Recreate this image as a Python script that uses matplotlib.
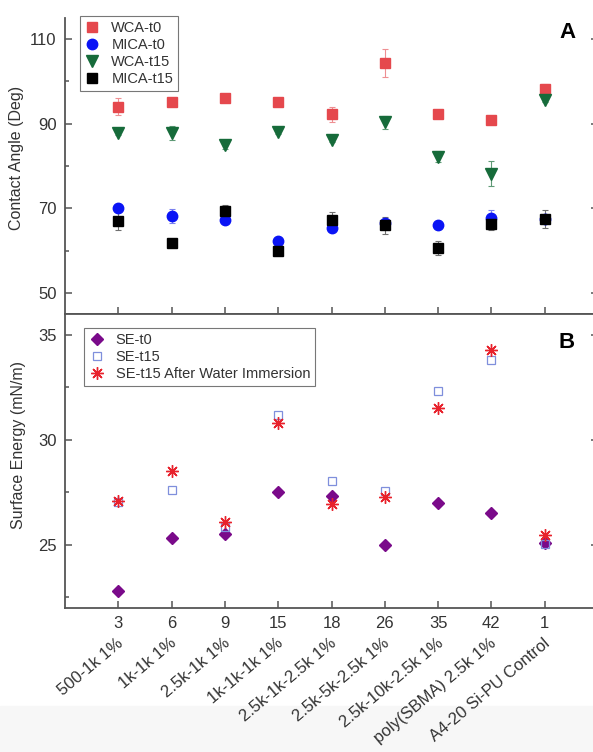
import numpy as np
import matplotlib
matplotlib.use("Agg")
import matplotlib.pyplot as plt
from matplotlib.patches import Rectangle

plt.rcParams['font.family'] = ['Liberation Sans', 'DejaVu Sans']

# sample ids and names
sample_ids = ['3', '6', '9', '15', '18', '26', '35', '42', '1']
sample_names = ['500-1k 1%', '1k-1k 1%', '2.5k-1k 1%', '1k-1k-1k 1%',
                '2.5k-1k-2.5k 1%', '2.5k-5k-2.5k 1%', '2.5k-10k-2.5k 1%',
                'poly(SBMA) 2.5k 1%', 'A4-20 Si-PU Control']

# contact angles (deg) and std devs
wca_t0 = [94.0, 95.2, 96.1, 95.2, 92.2, 104.3, 92.2, 90.9, 98.3]
wca_t0_err = [2.0, 0.6, 0.5, 0.5, 1.7, 3.3, 0.5, 1.0, 1.0]
mica_t0 = [70.1, 68.2, 67.2, 62.2, 65.3, 66.5, 66.0, 67.8, 67.5]
mica_t0_err = [0.6, 1.6, 0.5, 0.6, 0.6, 1.0, 1.0, 1.7, 1.0]
wca_t15 = [87.8, 87.8, 85.0, 88.0, 86.2, 90.3, 82.2, 78.2, 95.7]
wca_t15_err = [0.5, 1.7, 1.0, 0.5, 0.5, 1.5, 1.3, 3.0, 0.5]
mica_t15 = [67.1, 61.7, 69.3, 59.8, 67.2, 66.0, 60.6, 66.2, 67.5]
mica_t15_err = [2.2, 0.5, 1.4, 0.5, 2.0, 2.0, 1.7, 1.4, 2.2]

# surface energy (mN/m)
se_t0 = [22.8, 25.3, 25.5, 27.5, 27.3, 25.0, 27.0, 26.5, 25.1]
se_t15 = [27.05, 27.6, 25.85, 31.2, 28.05, 27.55, 32.35, 33.8, 25.05]
se_t15_water = [27.1, 28.5, 26.1, 30.8, 26.95, 27.25, 31.5, 34.3, 25.45]

x = np.arange(1, len(sample_ids) + 1)
spine_col = '#555555'
text_col = '#333333'

fig = plt.figure(figsize=(5.93, 7.52), dpi=100)
fig.patches.append(Rectangle((0, 0), 1, 46 / 752, transform=fig.transFigure,
                             color='#f7f7f7', zorder=-10))

axA = fig.add_axes([65 / 593, 1 - 314 / 752, 533 / 593, 296 / 752])
axB = fig.add_axes([65 / 593, 1 - 607.5 / 752, 533 / 593, 293.5 / 752])

ekw = dict(linestyle='none', capsize=2.5, elinewidth=0.8, capthick=0.8)
eb = []
eb.append(axA.errorbar(x, wca_t0, yerr=wca_t0_err, marker='s', ms=6.5,
                       color='#e5484d', ecolor='#ee8f92', label='WCA-t0', **ekw))
eb.append(axA.errorbar(x, mica_t0, yerr=mica_t0_err, marker='o', ms=7.5,
                       color='#0a14f5', ecolor='#7a80f0', label='MICA-t0', **ekw))
eb.append(axA.errorbar(x, wca_t15, yerr=wca_t15_err, marker='v', ms=8,
                       color='#166b3a', ecolor='#5f9a76', label='WCA-t15', **ekw))
eb.append(axA.errorbar(x, mica_t15, yerr=mica_t15_err, marker='s', ms=6.5,
                       color='black', ecolor='#707070', label='MICA-t15', **ekw))

axB.plot(x, se_t0, linestyle='none', marker='D', ms=6.5, color='#7a0a8a',
         label='SE-t0')
axB.plot(x, se_t15, linestyle='none', marker='s', ms=6, mfc='none',
         mec='#7f8fdc', mew=0.9, label='SE-t15')
axB.plot(x, se_t15_water, linestyle='none', marker=(8, 2, 0), ms=9,
         color='#e8222c', mew=1.0, label='SE-t15 After Water Immersion')

axA.set_xlim(0, 10)
axB.set_xlim(0, 10)
axA.set_ylim(45, 115)
axB.set_ylim(22, 36)
axA.set_yticks([50, 70, 90, 110])
axA.set_yticks([60, 80, 100], minor=True)
axB.set_yticks([25, 30, 35])
axB.set_yticks([22.5, 27.5, 32.5], minor=True)

for ax in (axA, axB):
    ax.set_xticks(x)
    for sp in ax.spines.values():
        sp.set_color(spine_col)
        sp.set_linewidth(1.3)
    ax.tick_params(which='both', direction='in', color=spine_col, width=1.1,
                   left=True, right=True, labelsize=12, labelcolor=text_col,
                   pad=6)
    ax.tick_params(which='major', length=5)
    ax.tick_params(which='minor', length=3)
    ax.tick_params(axis='x', which='minor', bottom=False, top=False)

axA.spines['top'].set_visible(False)
axA.tick_params(axis='x', top=False, labelbottom=False)
axB.tick_params(axis='x', top=False)
axB.set_xticklabels(sample_ids)

# rotated sample names under the numeric ids
for xi, name in zip(x, sample_names):
    axB.annotate(name, xy=(xi, 0), xycoords=('data', 'axes fraction'),
                 xytext=(-2, -28), textcoords='offset pixels',
                 rotation=40, rotation_mode='anchor', ha='right', va='top',
                 fontsize=12, color=text_col, annotation_clip=False)

axA.set_ylabel('Contact Angle (Deg)', fontsize=11.5, color=text_col)
axA.yaxis.set_label_coords(-0.077, 0.527)
axB.set_ylabel('Surface Energy (mN/m)', fontsize=11.5, color=text_col)
axB.yaxis.set_label_coords(-0.074, 0.554)

fig.text(567 / 593, 1 - 32 / 752, 'A', fontsize=16, fontweight='bold',
         ha='center', va='center')
fig.text(567 / 593, 1 - 342 / 752, 'B', fontsize=16, fontweight='bold',
         ha='center', va='center')

legkw = dict(fontsize=10.5, frameon=True, fancybox=False, edgecolor='#777777',
             framealpha=1, borderaxespad=0, handlelength=1.0,
             handletextpad=0.8, labelspacing=0.2, borderpad=0.35,
             labelcolor=text_col)
legA = axA.legend([c[0] for c in eb], [c.get_label() for c in eb],
                  loc='upper left', bbox_to_anchor=(0.028, 1.007), **legkw)
legB = axB.legend(loc='upper left', bbox_to_anchor=(0.036, 0.952), **legkw)
for leg in (legA, legB):
    leg.get_frame().set_linewidth(0.8)

fig.savefig('out.png', dpi=100)
